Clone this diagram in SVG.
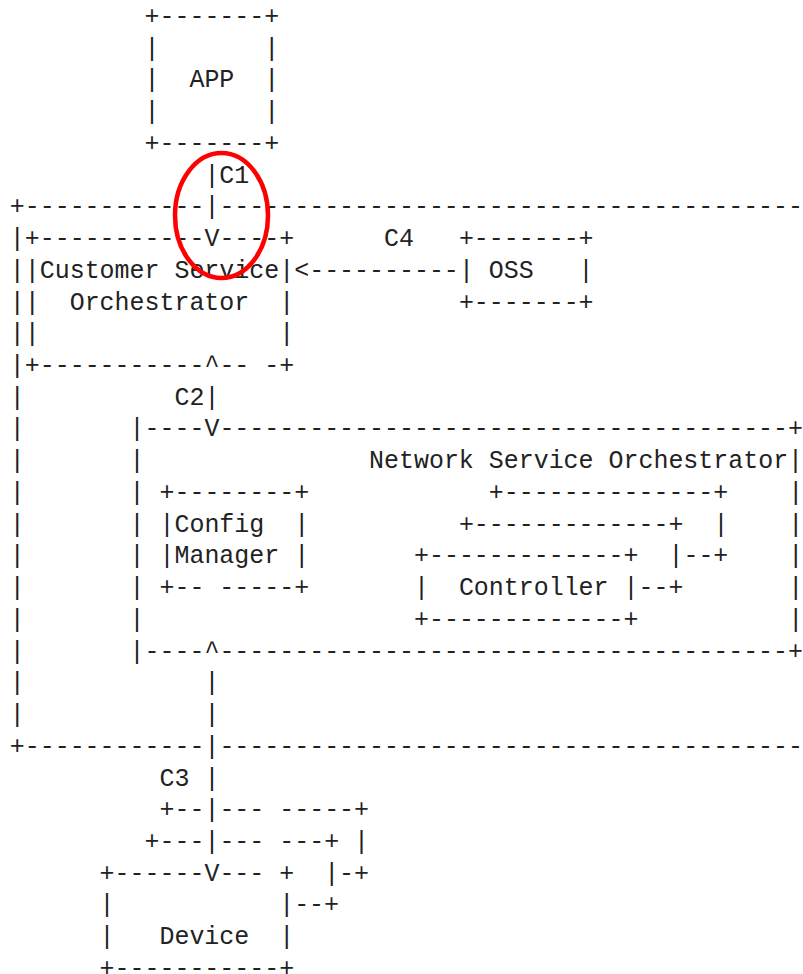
<svg xmlns="http://www.w3.org/2000/svg" width="803" height="974" viewBox="0 0 803 974" xml:space="preserve">
<style>
  text { font-family: "Liberation Mono", "DejaVu Sans Mono", monospace; font-size: 24.95px; fill: #222; white-space: pre; }
  .mark { fill: none; stroke: #ff0000; stroke-width: 4.5; }
</style>
<rect width="803" height="974" fill="#ffffff"/>

<!-- character grid: x = 9.8 + 14.97*col, baseline y = 24 + 31.73*row -->

<g id="app">
  <text x="144.53" y="24">+-------+</text>
  <text x="144.53" y="55.73">|       |</text>
  <text x="144.53" y="87.46">|  APP  |</text>
  <text x="144.53" y="119.19">|       |</text>
  <text x="144.53" y="150.92">+-------+</text>
</g>

<g id="customer-domain">
  <text x="9.8" y="214.38">+------------</text>
  <text x="219.38" y="214.38">---------------------------------------</text>
  <text x="9.8" y="246.11">|</text>
  <text x="9.8" y="277.84">|</text>
  <text x="9.8" y="309.57">|</text>
  <text x="9.8" y="341.3">|</text>
  <text x="9.8" y="373.03">|</text>
  <text x="9.8" y="404.76">|</text>
  <text x="9.8" y="436.49">|</text>
  <text x="9.8" y="468.22">|</text>
  <text x="9.8" y="499.95">|</text>
  <text x="9.8" y="531.68">|</text>
  <text x="9.8" y="563.41">|</text>
  <text x="9.8" y="595.14">|</text>
  <text x="9.8" y="626.87">|</text>
  <text x="9.8" y="658.6">|</text>
  <text x="9.8" y="690.33">|</text>
  <text x="9.8" y="722.06">|</text>
  <text x="9.8" y="753.79">+------------</text>
  <text x="219.38" y="753.79">---------------------------------------</text>
</g>

<g id="customer-service-orchestrator">
  <text x="24.77" y="246.11">+-----------</text>
  <text x="219.38" y="246.11">----+</text>
  <text x="24.77" y="277.84">|Customer Service|</text>
  <text x="24.77" y="309.57">|  Orchestrator  |</text>
  <text x="24.77" y="341.3">|                |</text>
  <text x="24.77" y="373.03">+-----------</text>
  <text x="219.38" y="373.03">-- -+</text>
</g>

<g id="oss">
  <text x="458.9" y="246.11">+-------+</text>
  <text x="458.9" y="277.84">| OSS   |</text>
  <text x="458.9" y="309.57">+-------+</text>
</g>

<g id="network-service-orchestrator">
  <text x="129.56" y="436.49">|----</text>
  <text x="219.38" y="436.49">--------------------------------------+</text>
  <text x="129.56" y="468.22">|</text>
  <text x="369.08" y="468.22">Network Service Orchestrator|</text>
  <text x="129.56" y="499.95">|</text>
  <text x="788.24" y="499.95">|</text>
  <text x="129.56" y="531.68">|</text>
  <text x="788.24" y="531.68">|</text>
  <text x="129.56" y="563.41">|</text>
  <text x="788.24" y="563.41">|</text>
  <text x="129.56" y="595.14">|</text>
  <text x="788.24" y="595.14">|</text>
  <text x="129.56" y="626.87">|</text>
  <text x="788.24" y="626.87">|</text>
  <text x="129.56" y="658.6">|----</text>
  <text x="219.38" y="658.6">--------------------------------------+</text>
</g>

<g id="config-manager">
  <text x="159.5" y="499.95">+--------+</text>
  <text x="159.5" y="531.68">|Config  |</text>
  <text x="159.5" y="563.41">|Manager |</text>
  <text x="159.5" y="595.14">+-- -----+</text>
</g>

<g id="controller">
  <text x="488.84" y="499.95">+--------------+</text>
  <text x="458.9" y="531.68">+-------------+</text>
  <text x="713.39" y="531.68">|</text>
  <text x="413.99" y="563.41">+-------------+</text>
  <text x="668.48" y="563.41">|--+</text>
  <text x="413.99" y="595.14">|  Controller |--+</text>
  <text x="413.99" y="626.87">+-------------+</text>
</g>

<g id="device">
  <text x="159.5" y="817.25">+--</text>
  <text x="219.38" y="817.25">--- -----+</text>
  <text x="144.53" y="848.98">+---</text>
  <text x="219.38" y="848.98">--- ---+ |</text>
  <text x="99.62" y="880.71">+------</text>
  <text x="219.38" y="880.71">--- +  |-+</text>
  <text x="99.62" y="912.44">|           |--+</text>
  <text x="99.62" y="944.17">|   Device  |</text>
  <text x="99.62" y="975.9">+-----------+</text>
</g>

<g id="connectors">
  <!-- C1: APP to Customer Service Orchestrator -->
  <text x="204.41" y="182.65">|C1</text>
  <text x="204.41" y="214.38">|</text>
  <text x="204.41" y="246.11">V</text>
  <!-- C4: OSS to Customer Service Orchestrator -->
  <text x="384.05" y="246.11">C4</text>
  <text x="294.23" y="277.84">&lt;----------</text>
  <!-- C2: Customer Service Orchestrator to Network Service Orchestrator -->
  <text x="204.41" y="373.03">^</text>
  <text x="174.47" y="404.76">C2|</text>
  <text x="204.41" y="436.49">V</text>
  <!-- C3: Network Service Orchestrator to Device -->
  <text x="204.41" y="658.6">^</text>
  <text x="204.41" y="690.33">|</text>
  <text x="204.41" y="722.06">|</text>
  <text x="204.41" y="753.79">|</text>
  <text x="159.5" y="785.52">C3 |</text>
  <text x="204.41" y="817.25">|</text>
  <text x="204.41" y="848.98">|</text>
  <text x="204.41" y="880.71">V</text>
</g>

<g id="highlight">
  <ellipse class="mark" cx="221.5" cy="215.5" rx="46.5" ry="62.5"/>
</g>
</svg>
